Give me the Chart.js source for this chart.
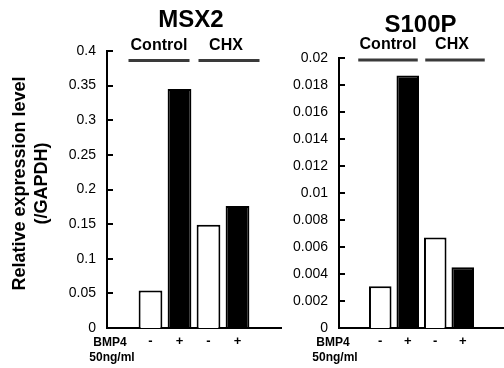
<!DOCTYPE html>
<html>
<head>
<meta charset="utf-8">
<script src="https://cdn.jsdelivr.net/npm/chart.js@4"></script>
<style>
  html, body { margin: 0; padding: 0; background: #fff; }
  #wrap { position: relative; width: 504px; height: 368px; overflow: hidden; }
  canvas { position: absolute; left: 0; top: 0; }
</style>
</head>
<body>
<div id="wrap">
  <canvas id="c1" width="504" height="368"></canvas>
  <canvas id="c2" width="504" height="368"></canvas>
</div>
<script>
// ---- data ----
const categories = ["", "-", "+", "-", "+", ""];
const msx2Values = [null, 0.054, 0.345, 0.149, 0.176, null];
const s100pValues = [null, 0.0031, 0.0187, 0.0067, 0.0045, null];
const msx2TickLabels = ["0", "0.05", "0.1", "0.15", "0.2", "0.25", "0.3", "0.35", "0.4"];
const s100pTickLabels = ["0", "0.002", "0.004", "0.006", "0.008", "0.01", "0.012", "0.014", "0.016", "0.018", "0.02"];
const groupNames = ["Control", "CHX"];
const treatmentLabel = ["BMP4", "50ng/ml"];
const yTitle = ["Relative expression level", "(/GAPDH)"];
const barFills = [null, "#ffffff", "#000000", "#ffffff", "#000000", null];

const FONT = "'Liberation Sans', Arial, Helvetica, sans-serif";
Chart.defaults.font.family = FONT;
Chart.defaults.color = "#000";

const annot = {
  id: "annot",
  afterDraw(chart, args, opts) {
    const ctx = chart.ctx;
    const x = chart.scales.x, y = chart.scales.y;
    const ca = chart.chartArea;
    ctx.save();
    // inward y ticks
    ctx.strokeStyle = "#000";
    ctx.lineWidth = 2;
    y.ticks.forEach(t => {
      const py = Math.round(y.getPixelForValue(t.value));
      if (t.value === 0) return;
      ctx.beginPath();
      ctx.moveTo(ca.left, py);
      ctx.lineTo(ca.left + 6, py);
      ctx.stroke();
    });
    // title
    const cx = (x.getPixelForValue(2) + x.getPixelForValue(3)) / 2 + opts.titleDx;
    ctx.fillStyle = "#000";
    ctx.textAlign = "center";
    ctx.textBaseline = "alphabetic";
    ctx.font = "bold 24px " + FONT;
    ctx.fillText(opts.title, cx, opts.titleY);
    // groups
    const lineY = opts.lineY;
    const segs = [
      [x.getPixelForValue(1) - 22, x.getPixelForValue(2) + 10],
      [x.getPixelForValue(3) - 10, x.getPixelForValue(4) + 22]
    ];
    ctx.strokeStyle = "#3a3a3a";
    ctx.lineWidth = 3;
    ctx.font = "bold 16px " + FONT;
    segs.forEach((s, i) => {
      ctx.beginPath();
      ctx.moveTo(s[0], lineY);
      ctx.lineTo(s[1], lineY);
      ctx.stroke();
      ctx.fillText(groupNames[i], (s[0] + s[1]) / 2 + (i === 0 ? 0 : -3), lineY - 11);
    });
    // treatment label
    ctx.font = "bold 12px " + FONT;
    ctx.fillText(treatmentLabel[0], ca.left + opts.bmpDx, 346);
    ctx.fillText(treatmentLabel[1], ca.left + opts.bmpDx + 2, 361);
    // y title
    if (opts.yTitle) {
      ctx.font = "bold 18px " + FONT;
      ctx.textBaseline = "middle";
      const midY = (ca.top + ca.bottom) / 2 - 6;
      ctx.translate(ca.left - 87, midY);
      ctx.rotate(-Math.PI / 2);
      ctx.fillText(yTitle[0], 0, 0);
      ctx.fillText(yTitle[1], 0, 22);
    }
    ctx.restore();
  }
};

function makeChart(id, values, tickLabels, yWidth, padding, annotOpts) {
  const tickVals = tickLabels.map(Number);
  return new Chart(document.getElementById(id), {
    type: "bar",
    data: {
      labels: categories,
      datasets: [{
        data: values,
        backgroundColor: barFills,
        borderColor: "#000",
        borderWidth: 2,
        barPercentage: 0.82,
        categoryPercentage: 1.0
      }]
    },
    options: {
      responsive: false,
      animation: false,
      devicePixelRatio: 1,
      layout: { padding: padding },
      plugins: { legend: { display: false }, tooltip: { enabled: false }, title: { display: false }, annot: annotOpts },
      scales: {
        x: {
          grid: { display: false, drawTicks: false },
          border: { display: true, color: "#000", width: 2 },
          ticks: { autoSkip: false, maxRotation: 0, padding: 6, color: "#000", font: { size: 13, weight: "bold" } },
          afterFit(s) { s.height = 40; }
        },
        y: {
          min: 0,
          max: tickVals[tickVals.length - 1],
          grid: { display: false, drawTicks: false },
          border: { display: true, color: "#000", width: 2 },
          ticks: {
            padding: 11,
            color: "#000",
            font: { size: 14 },
            callback: (v, i) => tickLabels[i]
          },
          afterBuildTicks(s) { s.ticks = tickVals.map(v => ({ value: v })); },
          afterFit(s) { s.width = yWidth; }
        }
      }
    },
    plugins: [annot]
  });
}

makeChart("c1", msx2Values, msx2TickLabels, 107,
  { top: 51, right: 223, left: 0, bottom: 0 },
  { title: "MSX2", titleDx: -3, titleY: 27, lineY: 60.5, bmpDx: 3, yTitle: true });
makeChart("c2", s100pValues, s100pTickLabels, 339,
  { top: 58, right: 0, left: 0, bottom: 0 },
  { title: "S100P", titleDx: -1, titleY: 32, lineY: 60, bmpDx: -6, yTitle: false });
</script>
</body>
</html>
